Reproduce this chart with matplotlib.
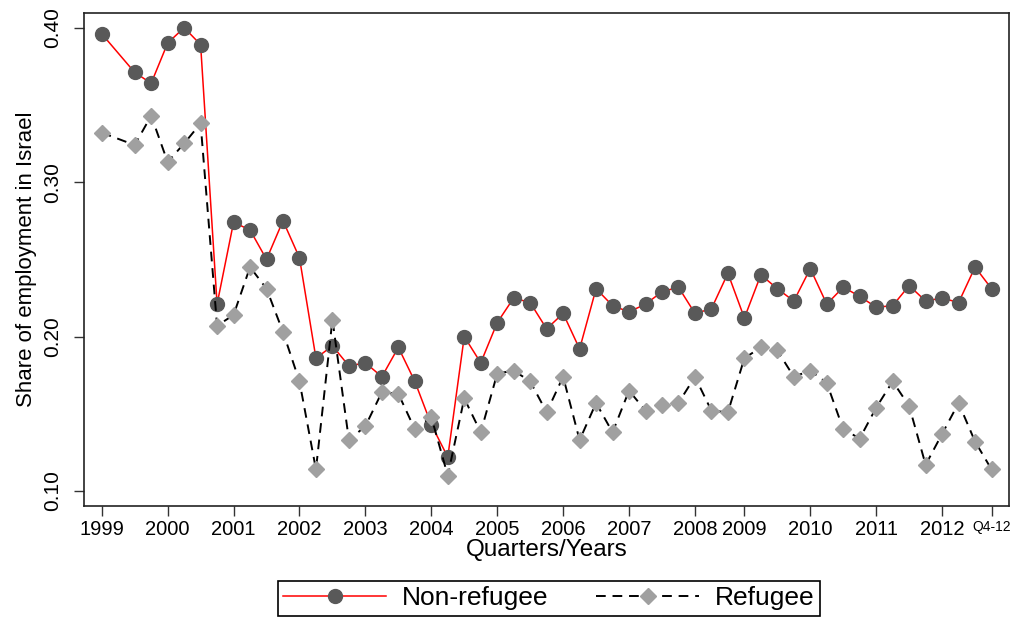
import numpy as np
import matplotlib
matplotlib.use("Agg")
import matplotlib.pyplot as plt

plt.rcParams['font.family'] = ['Liberation Sans', 'DejaVu Sans']

# observed quarters (1999 Q2 is not in the data, 2008 has three quarters)
periods = ([f"1999Q{q}" for q in (1, 3, 4)]
           + [f"{y}Q{q}" for y in range(2000, 2008) for q in range(1, 5)]
           + [f"2008Q{q}" for q in (1, 2, 3)]
           + [f"{y}Q{q}" for y in range(2009, 2013) for q in range(1, 5)])

non_refugee = [0.396, 0.371, 0.364,
               0.390, 0.400, 0.389, 0.221,
               0.274, 0.269, 0.250, 0.275,
               0.251, 0.186, 0.194, 0.181,
               0.183, 0.174, 0.193, 0.171,
               0.143, 0.122, 0.200, 0.183,
               0.209, 0.225, 0.222, 0.205,
               0.215, 0.192, 0.231, 0.220,
               0.216, 0.221, 0.229, 0.232,
               0.215, 0.218, 0.241,
               0.212, 0.240, 0.231, 0.223,
               0.244, 0.221, 0.232, 0.226,
               0.219, 0.220, 0.233, 0.223,
               0.225, 0.222, 0.245, 0.231]

refugee = [0.332, 0.324, 0.343,
           0.313, 0.325, 0.338, 0.207,
           0.214, 0.245, 0.231, 0.203,
           0.171, 0.114, 0.211, 0.133,
           0.142, 0.164, 0.163, 0.140,
           0.148, 0.110, 0.160, 0.138,
           0.176, 0.178, 0.171, 0.151,
           0.174, 0.133, 0.157, 0.138,
           0.165, 0.152, 0.156, 0.157,
           0.174, 0.152, 0.151,
           0.186, 0.193, 0.191, 0.174,
           0.178, 0.170, 0.140, 0.134,
           0.154, 0.171, 0.155, 0.117,
           0.137, 0.157, 0.132, 0.114]

tick_periods = [f"{y}Q1" for y in range(1999, 2013)] + ["2012Q4"]
tick_labels = [str(y) for y in range(1999, 2013)] + ["Q4-12"]
y_ticks = [0.10, 0.20, 0.30, 0.40]

# axis slots: the gap for 1999 Q2 is kept
slots = periods[:1] + ["1999Q2"] + periods[1:]
x = [slots.index(p) for p in periods]

fig = plt.figure(figsize=(10.19, 6.18), dpi=100)
ax = fig.add_axes([0.0827, 0.1817, 0.9075, 0.7968])

ax.plot(x, non_refugee, color='red', lw=1.1, marker='o', ms=10,
        mfc='#595959', mec='#595959', label='Non-refugee')
ax.plot(x, refugee, color='black', lw=1.4, ls=(0, (5, 3.5)), marker='D', ms=8.5,
        mfc='#a0a0a0', mec='#a0a0a0', label='Refugee')

ax.set_xlim(-1.06, 55.06)
ax.set_ylim(0.0905, 0.4093)

ax.set_xticks([slots.index(p) for p in tick_periods])
ax.set_xticklabels(tick_labels, fontsize=14.5)
ax.get_xticklabels()[-1].set_fontsize(10)
ax.set_yticks(y_ticks)
ax.set_yticklabels([f"{v:.2f}" for v in y_ticks], fontsize=15, rotation=90, va='center')
ax.tick_params(axis='both', length=7, width=1, color='#333333', direction='out')
ax.tick_params(axis='x', pad=3)
ax.tick_params(axis='y', pad=9)

for s in ax.spines.values():
    s.set_linewidth(1.2)
    s.set_color('#222222')

ax.set_xlabel('Quarters/Years', fontsize=17.5, labelpad=0)
ax.set_ylabel('Share of employment in Israel', fontsize=16, labelpad=4)

leg = fig.legend(loc='center', bbox_to_anchor=(549 / 1019, 1 - 598.5 / 618), ncol=2,
                 fontsize=19, handlelength=3.9, columnspacing=1.8, handletextpad=0.6,
                 borderpad=0.2, borderaxespad=0, fancybox=False, edgecolor='black',
                 framealpha=1)
leg.get_frame().set_linewidth(1.2)

fig.savefig('out.png', dpi=100)
